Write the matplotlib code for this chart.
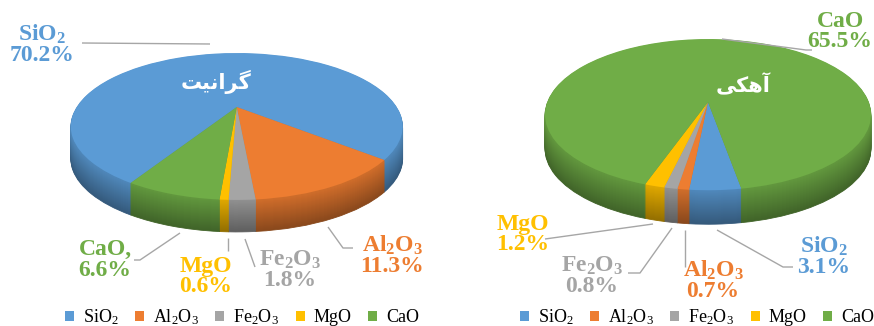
import numpy as np
import matplotlib
matplotlib.use("Agg")
import matplotlib.pyplot as plt
from matplotlib.colors import to_rgb
from matplotlib.transforms import Affine2D, Transform

# oxide composition (%) of the two aggregates
oxides = ["SiO$_2$", "Al$_2$O$_3$", "Fe$_2$O$_3$", "MgO", "CaO"]
legend_names = ["SiO$_\\mathsf{2}$", "Al$_\\mathsf{2}$O$_\\mathsf{3}$",
                "Fe$_\\mathsf{2}$O$_\\mathsf{3}$", "MgO", "CaO"]
granite = [70.2, 11.3, 1.8, 0.6, 6.6]
limestone = [3.1, 0.7, 0.8, 1.2, 65.5]
colors = ["#5b9bd5", "#ed7d31", "#a5a5a5", "#ffc000", "#70ad47"]

# Persian titles, written in presentation forms (matplotlib does no shaping)
granite_title = "\ufe96\ufbff\ufee7\ufe8d\ufeae\ufb94"   # گرانیت
limestone_title = "\ufbfd\ufb91\ufeeb\ufe81"             # آهکی

plt.rcParams["mathtext.fontset"] = "custom"
plt.rcParams["mathtext.rm"] = "Liberation Serif:bold"
plt.rcParams["mathtext.sf"] = "Liberation Serif"
plt.rcParams["mathtext.default"] = "rm"

W, H = 874, 326


class Tilt(Transform):
    """Simple perspective for a disk seen from above and in front."""
    input_dims = output_dims = 2

    def __init__(self, k):
        super().__init__()
        self.k = k

    def transform_non_affine(self, values):
        values = np.asarray(values, float)
        w = 1 + self.k * values[:, 1]
        return values / w[:, None]


def draw_pie(ax, values, cx, cy, a, b, k, depth, start):
    # side wall: stacked copies of the pie, darker toward the bottom
    for i in range(depth, 0, -1):
        f = 0.88 - 0.3 * i / depth
        shade = [tuple(np.array(to_rgb(c)) * f) for c in colors]
        wedges, _ = ax.pie(values, colors=shade, startangle=start, counterclock=False,
                           wedgeprops=dict(linewidth=0.6, edgecolor="none"))
        tr = Tilt(k) + Affine2D().scale(a, -b).translate(cx, cy + i) + ax.transData
        for w in wedges:
            w.set_transform(tr)
            w.set_edgecolor(w.get_facecolor())
    wedges, _ = ax.pie(values, colors=colors, startangle=start, counterclock=False,
                       wedgeprops=dict(linewidth=0))
    tr = Tilt(k) + Affine2D().scale(a, -b).translate(cx, cy) + ax.transData
    for w in wedges:
        w.set_transform(tr)
    return wedges


fig = plt.figure(figsize=(W / 100, H / 100), dpi=100)
ax = fig.add_axes([0, 0, 1, 1])

left = draw_pie(ax, granite, 236.7, 107, 160, 68.3, 0.265, 32, 239.2)
right = draw_pie(ax, limestone, 708, 102, 160.7, 73.5, 0.167, 34, -80)

ax.set_aspect("auto")
ax.set_xlim(0, W)
ax.set_ylim(H, 0)
ax.axis("off")

line_kw = dict(color="#a6a6a6", lw=1, solid_capstyle="butt")
label_kw = dict(ha="center", va="center", fontsize=17, fontweight="bold",
                family="Liberation Serif", linespacing=0.95)

# granite labels and leader lines
g_names = ["SiO$_2$", "Al$_2$O$_3$", "Fe$_2$O$_3$", "MgO", "CaO,"]
g_pos = [(42, 44.5), (392, 255.5), (290, 270), (206, 276.5), (105, 260)]
g_lines = [[(82, 43), (210, 44)],
           [(328, 227), (343, 248), (353, 248)],
           [(245, 239), (255, 267)],
           [(228, 238), (228, 251)],
           [(180, 233), (140, 260), (134, 260)]]
for name, v, c, (x, y), pts in zip(g_names, granite, colors, g_pos, g_lines):
    px, py = zip(*pts)
    ax.plot(px, py, **line_kw)
    ax.text(x, y, f"{name}\n{v}%", color=c, **label_kw)

# limestone labels and leader lines
l_pos = [(824, 256.5), (713, 280), (592, 276), (523, 234.5), (840, 31.5)]
l_lines = [[(717, 230), (783, 267), (793, 267)],
           [(685, 230), (685, 267)],
           [(672, 228), (640, 273), (628, 273)],
           [(653, 224), (545, 239)],
           [(722, 39), (806, 50), (812, 50)]]
for name, v, c, (x, y), pts in zip(oxides, limestone, colors, l_pos, l_lines):
    px, py = zip(*pts)
    ax.plot(px, py, **line_kw)
    ax.text(x, y, f"{name}\n{v}%", color=c, **label_kw)

ax.text(216, 82, granite_title, color="white", fontsize=15, fontweight="bold",
        family="DejaVu Sans", ha="center", va="center")
ax.text(743, 85, limestone_title, color="white", fontsize=15, fontweight="bold",
        family="DejaVu Sans", ha="center", va="center")

leg_kw = dict(ncol=5, frameon=False, handlelength=0.5, handleheight=0.5,
              handletextpad=0.5, columnspacing=0.9, borderpad=0, borderaxespad=0,
              prop=dict(family="Liberation Serif", size=13), loc="center",
              bbox_transform=ax.transData)
leg1 = ax.legend(left, legend_names, bbox_to_anchor=(242, 317), **leg_kw)
ax.add_artist(leg1)
ax.legend(right, legend_names, bbox_to_anchor=(697, 317), **leg_kw)

fig.savefig("out.png", dpi=100)
